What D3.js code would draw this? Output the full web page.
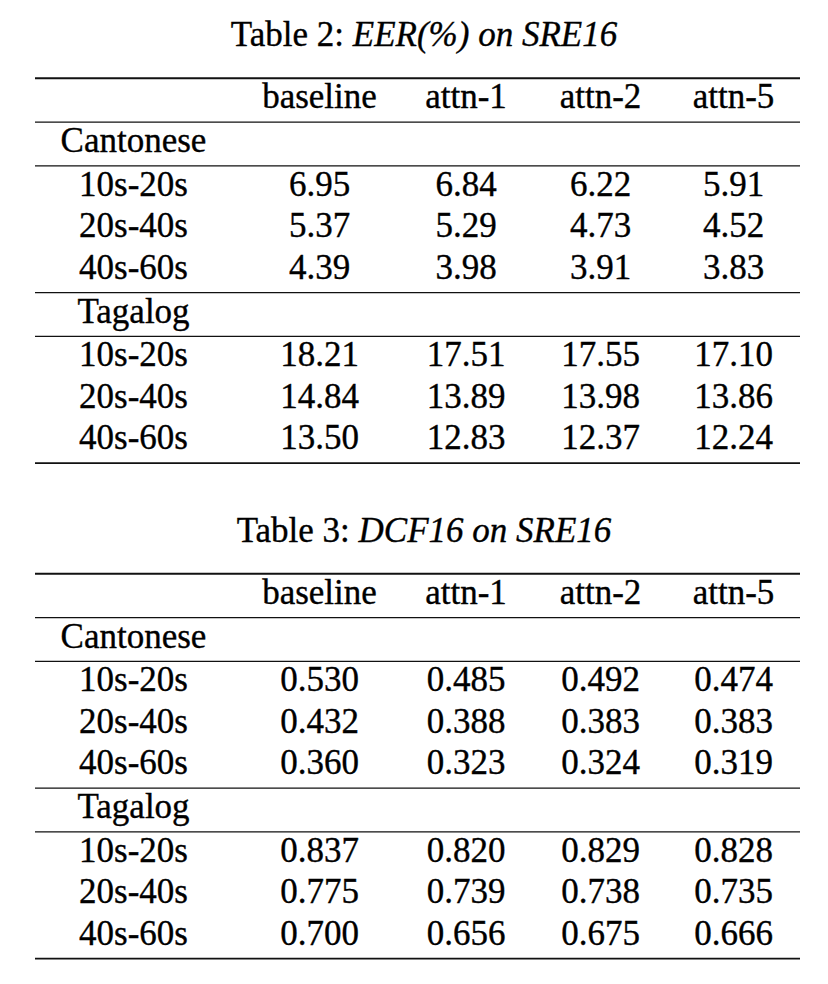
<!DOCTYPE html>
<html><head><meta charset="utf-8">
<script src="https://cdn.jsdelivr.net/npm/d3@7"></script>
<style>html,body{margin:0;padding:0;background:#fff;}</style>
</head><body><svg id="chart" width="828" height="984"></svg>
<script>
// ---- data ----
const columns = ["baseline", "attn-1", "attn-2", "attn-5"];
const languages = ["Cantonese", "Tagalog"];
const durations = ["10s-20s", "20s-40s", "40s-60s"];

const eerCantonese = [[6.95, 6.84, 6.22, 5.91], [5.37, 5.29, 4.73, 4.52], [4.39, 3.98, 3.91, 3.83]];
const eerTagalog   = [[18.21, 17.51, 17.55, 17.10], [14.84, 13.89, 13.98, 13.86], [13.50, 12.83, 12.37, 12.24]];
const dcfCantonese = [[0.530, 0.485, 0.492, 0.474], [0.432, 0.388, 0.383, 0.383], [0.360, 0.323, 0.324, 0.319]];
const dcfTagalog   = [[0.837, 0.820, 0.829, 0.828], [0.775, 0.739, 0.738, 0.735], [0.700, 0.656, 0.675, 0.666]];

const tableLabels = ["Table 2: ", "Table 3: "];
const tableTitles = ["EER(%) on SRE16", "DCF16 on SRE16"];
const tableFormats = [".2f", ".3f"];

// ---- build ----
const tables = [
  { label: tableLabels[0], title: tableTitles[0], fmt: tableFormats[0], groups: [eerCantonese, eerTagalog] },
  { label: tableLabels[1], title: tableTitles[1], fmt: tableFormats[1], groups: [dcfCantonese, dcfTagalog] }
];

const svg = d3.select("#chart");
const fs = 35;
const xLeft = 35, xRight = 800;
const x = d3.scaleOrdinal().domain(["label", ...columns]).range([133.5, 319.5, 466, 600.5, 733.5]);

const tableTop = d3.scaleLinear().domain([0, 1]).range([78.3, 573.8]);
const titleBase = d3.scaleLinear().domain([0, 1]).range([46, 541.5]);
const ruleToBase = 30, pitch = 41.45, baseToRule = 13.8;

const items = [];
const rules = [];

tables.forEach((t, ti) => {
  items.push({ kind: "title", x: 424, y: titleBase(ti), label: t.label, title: t.title });
  const segments = [];
  segments.push([{ type: "header" }]);
  languages.forEach((lang, li) => {
    segments.push([{ type: "group", name: lang }]);
    segments.push(durations.map((d, di) => ({ type: "row", name: d, values: t.groups[li][di] })));
  });
  let y = tableTop(ti);
  rules.push({ y, w: 1.9 });
  const fmt = d3.format(t.fmt);
  segments.forEach((seg, si) => {
    seg.forEach((r, ri) => {
      const by = y + ruleToBase + ri * pitch;
      if (r.type === "header") {
        columns.forEach(c => items.push({ kind: "cell", x: x(c), y: by, s: c }));
      } else if (r.type === "group") {
        items.push({ kind: "cell", x: x("label"), y: by, s: r.name });
      } else {
        items.push({ kind: "cell", x: x("label"), y: by, s: r.name });
        r.values.forEach((v, i) => items.push({ kind: "cell", x: x(columns[i]), y: by, s: fmt(v) }));
      }
    });
    y = y + ruleToBase + (seg.length - 1) * pitch + baseToRule;
    rules.push({ y, w: si === segments.length - 1 ? 1.9 : 1.3 });
  });
});

svg.selectAll("line").data(rules).join("line")
  .attr("x1", xLeft).attr("x2", xRight)
  .attr("y1", d => d.y).attr("y2", d => d.y)
  .attr("stroke", "#111").attr("stroke-width", d => d.w);

const texts = svg.selectAll("text").data(items).join("text")
  .attr("x", d => d.x).attr("y", d => d.y)
  .attr("font-size", fs)
  .attr("text-anchor", "middle")
  .attr("fill", "#000")
  .attr("stroke", "#000").attr("stroke-width", 0.35)
  .style("font-family", '"Liberation Serif"');

texts.filter(d => d.kind === "cell").text(d => d.s);
texts.filter(d => d.kind === "title").each(function (d) {
  const s = d3.select(this);
  s.append("tspan").text(d.label);
  s.append("tspan").style("font-style", "italic").text(d.title);
});
</script></body></html>
